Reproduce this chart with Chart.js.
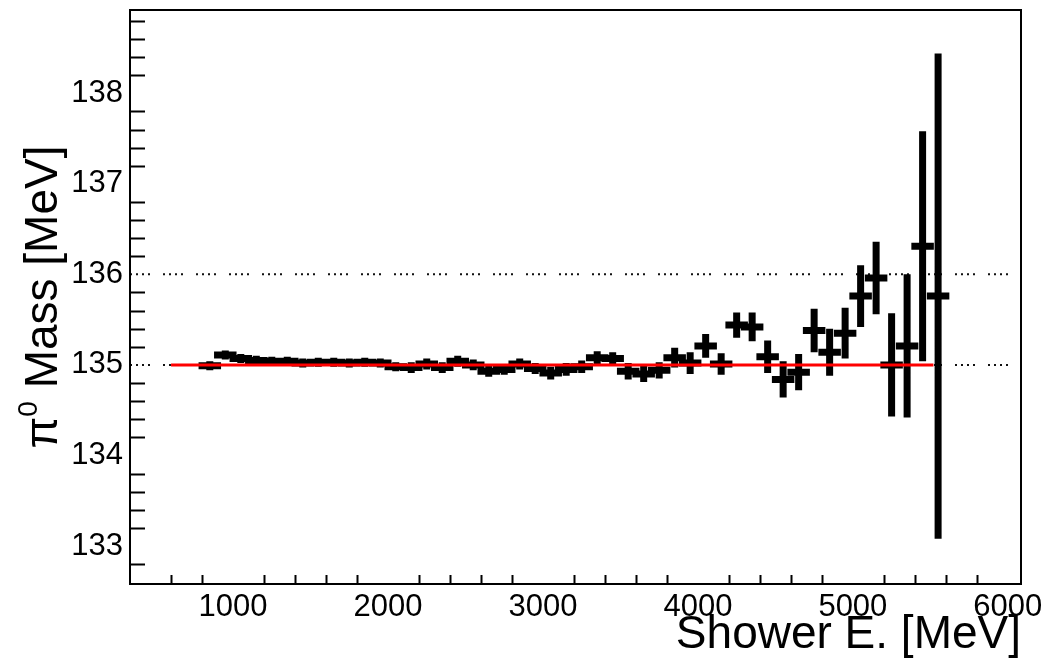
<!DOCTYPE html>
<html>
<head>
<meta charset="utf-8">
<script src="https://cdn.jsdelivr.net/npm/chart.js@4.4.1/dist/chart.umd.min.js"></script>
<style>
  html, body { margin: 0; padding: 0; background: #fff; }
  canvas { display: block; }
</style>
</head>
<body>
<canvas id="c" width="1048" height="661"></canvas>
<script>
// bin centres of shower energy [MeV]
const energy = [850, 950, 1050, 1150, 1250, 1350, 1450, 1550, 1650, 1750, 1850, 1950,
  2050, 2150, 2250, 2350, 2450, 2550, 2650, 2750, 2850, 2950, 3050, 3150, 3250, 3350,
  3450, 3550, 3650, 3750, 3850, 3950, 4050, 4150, 4250, 4350, 4450, 4550, 4650, 4750,
  4850, 4950, 5050, 5150, 5250, 5350, 5450, 5550];
// fitted pi0 mass per bin [MeV]
const mass = [134.99, 135.11, 135.07, 135.05, 135.04, 135.04, 135.02, 135.03, 135.03, 135.02, 135.03, 135.02,
  134.98, 134.97, 135.01, 134.97, 135.04, 135.00, 134.93, 134.95, 135.01, 134.96, 134.91, 134.95, 134.98, 135.08,
  135.07, 134.93, 134.90, 134.94, 135.08, 135.02, 135.21, 135.01, 135.44, 135.42, 135.09, 134.84, 134.92, 135.38,
  135.14, 135.35, 135.76, 135.96, 135.00, 135.21, 136.31, 135.76];
const massErr = [0.05, 0.05, 0.05, 0.05, 0.05, 0.05, 0.05, 0.05, 0.05, 0.05, 0.05, 0.05,
  0.05, 0.06, 0.06, 0.06, 0.06, 0.06, 0.06, 0.06, 0.06, 0.06, 0.07, 0.07, 0.07, 0.07,
  0.07, 0.09, 0.09, 0.09, 0.11, 0.12, 0.13, 0.12, 0.14, 0.16, 0.18, 0.20, 0.20, 0.24,
  0.26, 0.28, 0.34, 0.40, 0.57, 0.79, 1.27, 2.68];
const binHalfWidth = 50;

const xTickLabels = [1000, 2000, 3000, 4000, 5000, 6000];
const yTickLabels = [133, 134, 135, 136, 137, 138];
const refLines = [135, 136];      // dotted guide lines
const fitMass = 135.0;            // red line
const fitRange = [600, 5520];

const xMin = 335, xMax = 6085;
const yMin = 132.58, yMax = 138.92;

const FONT = '"Liberation Sans", Arial, Helvetica, sans-serif';

// error bars as line segments separated by gaps
const hBars = [], vBars = [];
energy.forEach((e, i) => {
  hBars.push({x: e - binHalfWidth, y: mass[i]}, {x: e + binHalfWidth, y: mass[i]}, {x: e, y: null});
  vBars.push({x: e, y: mass[i] - massErr[i]}, {x: e, y: mass[i] + massErr[i]}, {x: e, y: null});
});

const guideSets = refLines.map(v => ({
  data: [{x: xMin, y: v}, {x: xMax, y: v}],
  borderColor: '#111',
  borderWidth: 2,
  borderDash: [2, 4, 2, 4, 2, 4, 2, 13],
  pointRadius: 0,
  order: 3
}));

// frame, minor ticks and axis titles, ROOT look
const rootFrame = {
  id: 'rootFrame',
  afterDraw(chart) {
    const {ctx, chartArea: a} = chart;
    const x = chart.scales.x, y = chart.scales.y;
    ctx.save();
    ctx.strokeStyle = '#000';
    ctx.lineWidth = 2;
    ctx.strokeRect(a.left, a.top, a.right - a.left, a.bottom - a.top);

    ctx.beginPath();
    for (let v = 600; v < xMax; v += 200) {
      if (v % 1000 === 0) continue;
      const px = Math.round(x.getPixelForValue(v)) + 0.5;
      ctx.moveTo(px, a.bottom);
      ctx.lineTo(px, a.bottom - 9);
    }
    for (let k = 664; k <= Math.floor(yMax * 5); k++) {
      if (k % 5 === 0) continue;
      const py = Math.round(y.getPixelForValue(k / 5)) + 0.5;
      ctx.moveTo(a.left, py);
      ctx.lineTo(a.left + 15, py);
    }
    ctx.stroke();

    ctx.fillStyle = '#000';
    ctx.font = '46px ' + FONT;
    ctx.textAlign = 'right';
    ctx.textBaseline = 'alphabetic';
    ctx.fillText('Shower E. [MeV]', a.right, 648);

    // y title with superscript 0
    const cy = (a.top + a.bottom) / 2;
    ctx.translate(57, cy);
    ctx.rotate(-Math.PI / 2);
    ctx.textAlign = 'left';
    const big = '46px ' + FONT, small = '28px ' + FONT;
    ctx.font = big;
    const wPi = ctx.measureText('\u03C0').width;
    const wRest = ctx.measureText(' Mass [MeV]').width;
    ctx.font = small;
    const wSup = ctx.measureText('0').width;
    let sx = -(wPi + wSup + wRest) / 2;
    ctx.font = big;
    ctx.fillText('\u03C0', sx, 0);
    sx += wPi;
    ctx.font = small;
    ctx.fillText('0', sx, -20);
    sx += wSup;
    ctx.font = big;
    ctx.fillText(' Mass [MeV]', sx, 0);
    ctx.restore();
  }
};

new Chart(document.getElementById('c'), {
  type: 'line',
  data: {
    datasets: [
      {
        data: [{x: fitRange[0], y: fitMass}, {x: fitRange[1], y: fitMass}],
        borderColor: '#ff0000',
        borderWidth: 3,
        pointRadius: 0,
        order: 0
      },
      {
        data: hBars,
        borderColor: '#000',
        borderWidth: 7,
        borderCapStyle: 'square',
        pointRadius: 0,
        spanGaps: false,
        order: 1
      },
      {
        data: vBars,
        borderColor: '#000',
        borderWidth: 7,
        borderCapStyle: 'butt',
        pointRadius: 0,
        spanGaps: false,
        order: 2
      },
      ...guideSets
    ]
  },
  options: {
    responsive: false,
    animation: false,
    events: [],
    layout: { padding: { top: 10, right: 27, left: 0, bottom: 0 } },
    plugins: { legend: { display: false }, tooltip: { enabled: false } },
    elements: { line: { tension: 0, fill: false } },
    scales: {
      x: {
        type: 'linear',
        min: xMin,
        max: xMax,
        grid: { display: false, drawTicks: false },
        border: { display: false },
        afterBuildTicks: s => { s.ticks = xTickLabels.map(v => ({value: v})); },
        afterFit: s => { s.height = 77; s.paddingLeft = 0; s.paddingRight = 0; },
        ticks: {
          font: { family: FONT, size: 31 },
          color: '#000',
          padding: 5,
          maxRotation: 0,
          autoSkip: false,
          callback: v => String(v)
        }
      },
      y: {
        type: 'linear',
        min: yMin,
        max: yMax,
        grid: { display: false, drawTicks: false },
        border: { display: false },
        afterBuildTicks: s => { s.ticks = yTickLabels.map(v => ({value: v})); },
        afterFit: s => { s.width = 130; s.paddingTop = 0; s.paddingBottom = 0; },
        ticks: {
          font: { family: FONT, size: 31 },
          color: '#000',
          padding: 7,
          autoSkip: false,
          callback: v => String(v)
        }
      }
    }
  },
  plugins: [rootFrame]
});
</script>
</body>
</html>
